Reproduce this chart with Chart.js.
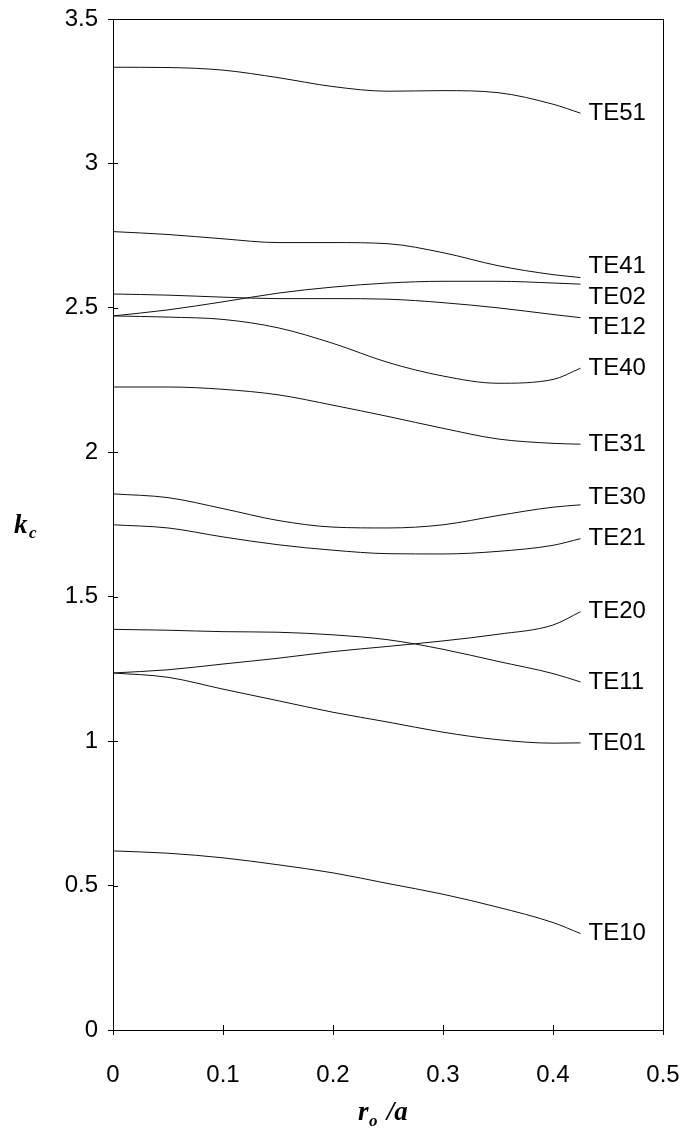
<!DOCTYPE html>
<html>
<head>
<meta charset="utf-8">
<script src="https://cdn.jsdelivr.net/npm/chart.js@4/dist/chart.umd.min.js"></script>
<style>
  html, body { margin: 0; padding: 0; background: #fff; }
  #wrap { width: 690px; height: 1136px; position: relative; }
</style>
</head>
<body>
<div id="wrap"><canvas id="chart"></canvas></div>
<script>
// r_o / a sample positions (all curves share them)
const xs = [0, 0.05, 0.1, 0.15, 0.2, 0.25, 0.3, 0.35, 0.4, 0.425];

// cutoff wavenumber k_c for each mode
const TE51 = [3.333, 3.332, 3.323, 3.297, 3.266, 3.250, 3.252, 3.245, 3.205, 3.174];
const TE41 = [2.764, 2.754, 2.739, 2.726, 2.726, 2.722, 2.691, 2.646, 2.615, 2.605];
const TE02 = [2.472, 2.493, 2.521, 2.551, 2.572, 2.586, 2.592, 2.592, 2.586, 2.582];
const TE12 = [2.548, 2.544, 2.537, 2.532, 2.532, 2.530, 2.518, 2.500, 2.477, 2.466];
const TE40 = [2.472, 2.468, 2.460, 2.431, 2.377, 2.311, 2.264, 2.239, 2.252, 2.291];
const TE31 = [2.226, 2.226, 2.218, 2.199, 2.163, 2.124, 2.083, 2.046, 2.031, 2.028];
const TE30 = [1.856, 1.843, 1.805, 1.764, 1.741, 1.738, 1.749, 1.781, 1.810, 1.818];
const TE21 = [1.749, 1.738, 1.707, 1.680, 1.661, 1.649, 1.648, 1.657, 1.678, 1.701];
const TE20 = [1.236, 1.247, 1.267, 1.287, 1.310, 1.328, 1.347, 1.370, 1.402, 1.448];
const TE11 = [1.387, 1.384, 1.379, 1.377, 1.368, 1.351, 1.318, 1.276, 1.234, 1.205];
const TE01 = [1.236, 1.221, 1.180, 1.140, 1.100, 1.066, 1.031, 1.005, 0.993, 0.994];
const TE10 = [0.620, 0.612, 0.596, 0.572, 0.544, 0.507, 0.470, 0.425, 0.372, 0.334];

const modeNames = ['TE51', 'TE41', 'TE02', 'TE12', 'TE40', 'TE31', 'TE30', 'TE21', 'TE20', 'TE11', 'TE01', 'TE10'];
const modeValues = [TE51, TE41, TE02, TE12, TE40, TE31, TE30, TE21, TE20, TE11, TE01, TE10];

const xTicks = [0, 0.1, 0.2, 0.3, 0.4, 0.5];
const xTickLabels = ['0', '0.1', '0.2', '0.3', '0.4', '0.5'];
const yTicks = [0, 0.5, 1, 1.5, 2, 2.5, 3, 3.5];
const yTickLabels = ['0', '0.5', '1', '1.5', '2', '2.5', '3', '3.5'];

// label nudges in pixels so the names don't collide
const labelNudge = { TE41: -11, TE02: 13, TE12: 10, TE30: -7 };

const sans = '"Liberation Sans", Arial, sans-serif';
const serif = '"Liberation Serif", "Times New Roman", serif';

const datasets = modeNames.map((name, i) => ({
    label: name,
    data: xs.map((x, j) => ({ x: x, y: modeValues[i][j] })),
    borderColor: '#111',
    borderWidth: 1,
    pointRadius: 0,
    fill: false,
    cubicInterpolationMode: 'monotone'
}));

const extras = {
    id: 'extras',
    afterDraw(chart) {
        const ctx = chart.ctx;
        const a = chart.chartArea;
        const xs_ = chart.scales.x, ys_ = chart.scales.y;
        ctx.save();
        ctx.strokeStyle = '#000';
        ctx.lineWidth = 1;
        // frame
        ctx.strokeRect(Math.round(a.left) + 0.5, Math.round(a.top) + 0.5,
            Math.round(a.right - a.left), Math.round(a.bottom - a.top));
        // inner half of the crossing ticks
        ctx.beginPath();
        xTicks.forEach(v => {
            const px = Math.round(xs_.getPixelForValue(v)) + 0.5;
            ctx.moveTo(px, a.bottom);
            ctx.lineTo(px, a.bottom - 5);
        });
        yTicks.forEach(v => {
            const py = Math.round(ys_.getPixelForValue(v)) + 0.5;
            ctx.moveTo(a.left, py);
            ctx.lineTo(a.left + 5, py);
        });
        ctx.stroke();

        // mode names at curve ends
        ctx.fillStyle = '#000';
        ctx.font = '24px ' + sans;
        ctx.textAlign = 'left';
        ctx.textBaseline = 'middle';
        modeNames.forEach((name, i) => {
            const vals = modeValues[i];
            const px = xs_.getPixelForValue(xs[xs.length - 1]);
            const py = ys_.getPixelForValue(vals[vals.length - 1]);
            ctx.fillText(name, px + 8, py + (labelNudge[name] || 0));
        });

        // axis titles with subscripts
        ctx.textBaseline = 'alphabetic';
        const midY = (a.top + a.bottom) / 2;
        ctx.font = 'italic bold 27px ' + serif;
        ctx.fillText('k', 14, midY + 8);
        ctx.font = 'italic bold 17px ' + serif;
        ctx.fillText('c', 29, midY + 13);

        const midX = (a.left + a.right) / 2;
        ctx.font = 'italic bold 27px ' + serif;
        ctx.fillText('r', midX - 30, 1120);
        ctx.font = 'italic bold 17px ' + serif;
        ctx.fillText('o', midX - 19, 1126);
        ctx.font = 'italic bold 27px ' + serif;
        ctx.fillText(' /a', midX - 8, 1120);
        ctx.restore();
    }
};

new Chart(document.getElementById('chart'), {
    type: 'line',
    data: { datasets: datasets },
    options: {
        responsive: true,
        maintainAspectRatio: false,
        animation: false,
        events: [],
        layout: { padding: 0 },
        plugins: { legend: { display: false }, tooltip: { enabled: false } },
        scales: {
            x: {
                type: 'linear',
                min: 0, max: 0.5,
                afterBuildTicks: s => { s.ticks = xTicks.map(v => ({ value: v })); },
                afterFit: s => { s.height = 106; s.paddingLeft = 0; s.paddingRight = 27; },
                ticks: {
                    callback: v => xTickLabels[xTicks.indexOf(v)],
                    color: '#000',
                    font: { family: sans, size: 24 },
                    padding: 26,
                    maxRotation: 0
                },
                grid: { drawOnChartArea: false, drawTicks: true, tickLength: 5, color: '#000' },
                border: { color: '#000', width: 1 }
            },
            y: {
                type: 'linear',
                min: 0, max: 3.5,
                afterBuildTicks: s => { s.ticks = yTicks.map(v => ({ value: v })); },
                afterFit: s => { s.width = 113; s.paddingTop = 19; s.paddingBottom = 0; },
                ticks: {
                    callback: v => yTickLabels[yTicks.indexOf(v)],
                    color: '#000',
                    font: { family: sans, size: 24 },
                    padding: 10
                },
                grid: { drawOnChartArea: false, drawTicks: true, tickLength: 5, color: '#000' },
                border: { color: '#000', width: 1 }
            }
        }
    },
    plugins: [extras]
});
</script>
</body>
</html>
